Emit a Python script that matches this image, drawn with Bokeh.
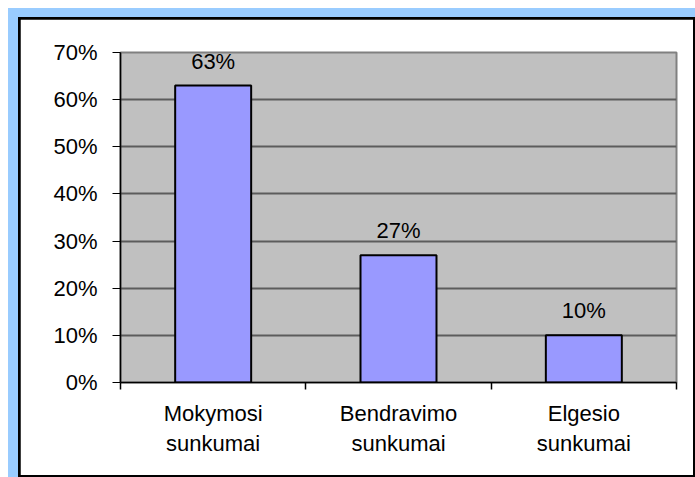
from bokeh.plotting import figure
from bokeh.models import ColumnDataSource, FixedTicker, NumeralTickFormatter, Range1d, Spacer
from bokeh.layouts import row, column
from bokeh.core.properties import value
from bokeh.embed import file_html
from bokeh.resources import INLINE

categories = ["Mokymosi\nsunkumai", "Bendravimo\nsunkumai", "Elgesio\nsunkumai"]
values = [0.63, 0.27, 0.10]
value_labels = ["63%", "27%", "10%"]
y_ticks = [0, 0.1, 0.2, 0.3, 0.4, 0.5, 0.6, 0.7]

FONT = value("Liberation Sans")
FS = "22px"

xs = [i + 0.5 for i in range(len(categories))]
bounds = [float(i) for i in range(len(categories) + 1)]
src = ColumnDataSource(dict(x=xs, top=values, label=value_labels))

p = figure(width=673, height=456, x_range=Range1d(0, len(categories)), y_range=Range1d(0, 0.7),
           output_backend="svg", toolbar_location=None,
           min_border_left=100, min_border_top=33, min_border_right=17, min_border_bottom=93,
           background_fill_color="#C0C0C0", border_fill_color="white",
           outline_line_color="#808080", outline_line_width=2)

p.ygrid.ticker = FixedTicker(ticks=y_ticks)
p.ygrid.grid_line_color = "#5c5c5c"
p.ygrid.grid_line_width = 2

p.vbar(x="x", top="top", bottom=0, width=0.41, source=src,
       fill_color="#9999FF", line_color="black", line_width=2)
p.text(x="x", y="top", text="label", source=src, text_align="center", text_baseline="bottom",
       y_offset=-12, text_font=FONT, text_font_size=FS, text_color="black")

# x axis
xa = p.xaxis[0]
xa.ticker = FixedTicker(ticks=xs, minor_ticks=bounds)
xa.major_label_overrides = {x: c for x, c in zip(xs, categories)}
xa.major_tick_out = 0
xa.major_tick_in = 0
xa.minor_tick_out = 7
xa.minor_tick_in = 0
xa.minor_tick_line_color = "black"
xa.minor_tick_line_width = 1.5
xa.axis_line_color = "black"
xa.axis_line_width = 1.5
xa.major_label_text_font = "Liberation Sans"
xa.major_label_text_font_size = FS
xa.major_label_text_color = "black"
xa.major_label_standoff = 11
p.xgrid.visible = False

# y axis
ya = p.yaxis[0]
ya.ticker = FixedTicker(ticks=y_ticks)
ya.formatter = NumeralTickFormatter(format="0%")
ya.major_tick_out = 8
ya.major_tick_in = 0
ya.major_tick_line_color = "black"
ya.axis_line_color = "black"
ya.axis_line_width = 1.5
ya.major_label_text_font = "Liberation Sans"
ya.major_label_text_font_size = FS
ya.major_label_text_color = "black"
ya.major_label_standoff = 15

# black 2px frame around the chart
framed = row(Spacer(width=2, height=460),
             column(Spacer(width=673, height=2), p, Spacer(width=673, height=2), spacing=0),
             Spacer(width=2, height=460),
             spacing=0, styles={"background-color": "black"})

# light-blue page band
blue = row(Spacer(width=10, height=469),
           column(Spacer(width=677, height=9), framed, spacing=0),
           spacing=0, styles={"background-color": "#99CCFF"})

outer = column(Spacer(width=695, height=8),
               row(Spacer(width=8, height=469), blue, spacing=0),
               spacing=0)

open("out.html", "w").write(file_html(outer, INLINE))
